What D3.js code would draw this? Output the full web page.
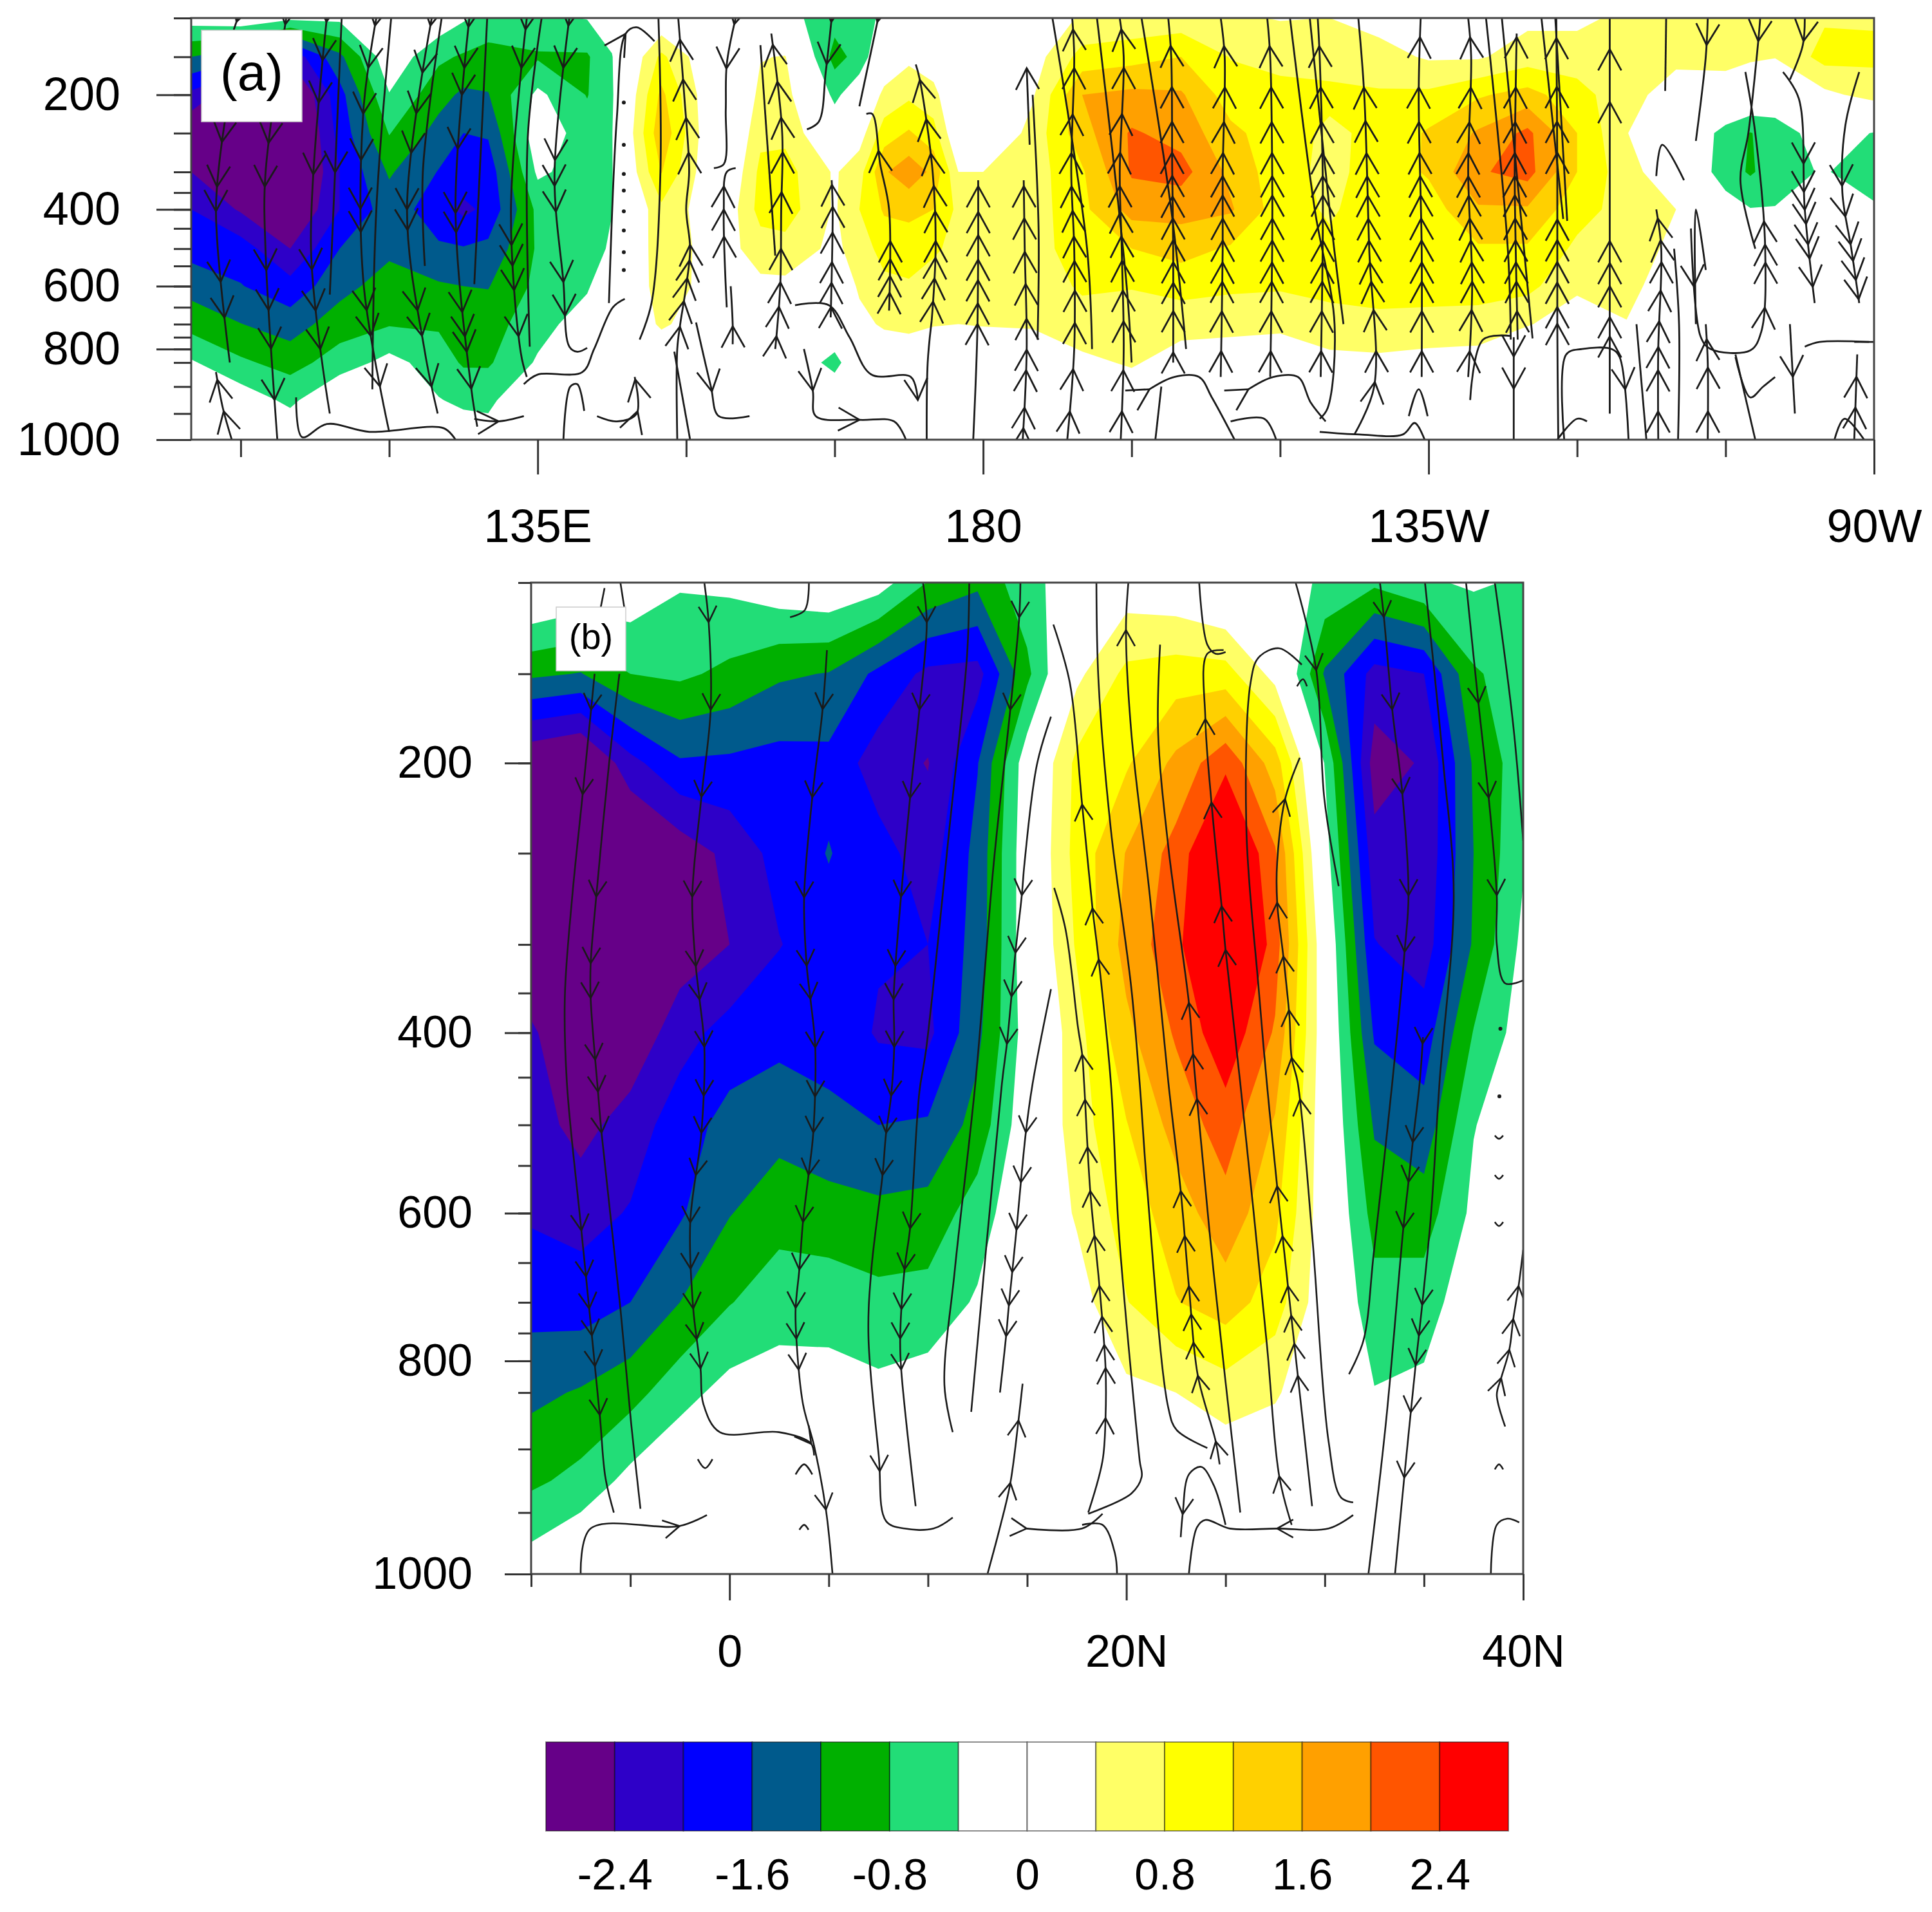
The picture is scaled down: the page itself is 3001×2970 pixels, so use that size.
<!DOCTYPE html>
<html>
<head>
<meta charset="utf-8">
<script src="https://cdn.jsdelivr.net/npm/d3@7"></script>
<style>
body { margin: 0; background: #fff; }
text { font-family: "Liberation Sans", sans-serif; fill: #000; }
</style>
</head>
<body>
<svg id="fig" width="3001" height="2970"></svg>
<script>
// pressure axis: the model levels are spaced by position, not by value
var axisLevels = [100,150,200,250,300,350,400,450,500,550,600,650,700,750,800,850,900,950,1000];
var axisSpots = [0,.092,.182,.273,.365,.414,.454,.499,.547,.588,.636,.686,.726,.757,.785,.817,.874,.938,1];
var gridLevels = [100,150,200,250,300,400,500,600,700,850,925,1000];

var bandEdges = [-2.4,-2,-1.6,-1.2,-.8,-.4,0,.4,.8,1.2,1.6,2,2.4];
var bandColors = ['#660088','#2e00c8','#0000ff','#005a8c','#00b000','#22dd77','#ffffff','#ffffff',
    '#ffff66','#ffff00','#ffd000','#ffa000','#ff5500','#ff0000'];
var barLabels = [-2.4,-1.6,-.8,0,.8,1.6,2.4];

// panel a, longitude columns; one profile per column, top (100) to bottom (1000)
var aLons = [100,105,110,115,120,125,127.5,130,135,140,142.5,147.5,152.5,155,157.5,160,165,167.5,170,172.5,175,177.5,
    180,185,190,195,200,205,210,215,220,225,230,235,240,245,250,255,257.5,260,265,270];
var aProfiles = [
    [-.2,-1.2,-2.1,-2.8,-2.4,-2,-1.75,-1.35,-.95,-.35,-.1,0],
    [-.1,-1.5,-2.8,-3,-2.9,-2.45,-1.8,-1.58,-1.19,-.73,-.15,0],
    [-.3,-2.3,-3,-3.2,-3.2,-2.9,-2.4,-1.85,-1.4,-.95,-.5,0],
    [-.3,-1.3,-1.75,-1.85,-2,-2,-1.6,-1.35,-.98,-.62,.05,0],
    [0,-.1,-.42,-.78,-1.15,-1.4,-1.3,-1,-.83,-.26,.1,0],
    [-.1,-.72,-1.05,-1.35,-1.62,-1.8,-1.55,-1.15,-.85,-.6,-.38,0],
    [-.35,-.85,-1.28,-1.6,-1.75,-2.1,-1.57,-1.2,-.95,-.85,-.48,-.15],
    [-.55,-.95,-1.22,-1.55,-1.85,-1.9,-1.5,-1.22,-.98,-.85,-.5,-.2],
    [-.5,-.85,-.3,-.1,-.32,-.7,-.75,-.7,-.55,-.35,.05,0],
    [-.38,-.85,-.82,-.62,-.6,-.72,-.7,-.45,-.2,-.1,0,0],
    [-.2,-.42,-.45,-.42,-.42,-.42,-.3,-.05,0,0,0,0],
    [0,.9,1.3,1.5,1.22,.7,.65,.55,.45,.1,0,0],
    [0,0,.05,.05,.05,.15,.25,.3,.2,0,0,0],
    [0,0,0,.05,.2,.35,.35,.1,0,0,0,0],
    [0,.38,.5,.7,.9,.95,.6,.3,0,0,0,0],
    [-.25,.42,.55,.7,.95,1,.65,.3,0,0,0,0],
    [-.65,-.95,-.5,-.1,.35,.35,.3,.1,0,-.55,0,0],
    [-.6,-.65,-.1,.2,.65,.8,.6,.45,.3,0,0,0],
    [-.3,.05,.5,1,1.55,1.25,.95,.7,.45,.1,0,0],
    [-.05,.3,.72,1.25,1.85,1.3,1,.75,.5,.1,0,0],
    [-.2,.1,.55,.95,1.5,1.2,.85,.65,.42,.1,0,0],
    [-.3,-.2,-.15,-.05,.4,.7,.7,.65,.4,.1,0,0],
    [-.3,-.2,-.15,-.1,.4,.5,.55,.55,.42,.1,0,0],
    [.1,.2,.35,.55,.6,.6,.6,.6,.45,.05,0,0],
    [.45,.95,1.6,1.45,1.15,1.1,1.05,.85,.65,.3,0,0],
    [.5,1.05,1.7,2.05,2.05,1.75,1.2,.82,.6,.45,.1,0],
    [.55,1.2,1.65,1.85,2.15,1.75,1.35,.95,.55,.2,0,0],
    [.45,.78,1,1.3,1.5,1.65,1.15,.88,.5,.2,0,0],
    [.38,.65,.95,.98,.95,.98,.95,.85,.48,.15,0,0],
    [.4,.62,.9,.72,.7,.75,.88,.95,.6,.3,0,0],
    [.25,.55,.85,.9,.95,1,1,.95,.7,.3,0,0],
    [.1,.35,.88,1.25,1.25,1,1,.98,.65,.25,0,0],
    [.15,.35,1.15,1.65,1.95,1.55,1.15,.95,.65,.2,0,0],
    [.3,.6,1.35,2.1,2.15,1.55,1.15,.92,.42,.05,0,0],
    [.3,.6,.95,1.2,1.2,.95,.72,.45,.25,0,0,0],
    [.5,.55,.55,.41,.55,.65,.6,.55,.38,.05,0,0],
    [.6,.5,.2,.1,.1,.4,.3,.1,0,0,0,0],
    [.7,.55,.15,-.55,-.6,-.2,0,0,0,0,0,0],
    [.6,.45,.1,-.82,-.85,-.38,-.05,0,0,0,0,0],
    [.6,.42,-.1,-.6,-.6,-.38,0,0,0,0,0,0],
    [.75,.95,.3,-.2,-.35,-.15,0,0,0,0,0,0],
    [.75,.9,.55,-.42,-.75,-.3,0,0,0,0,0,0]
];

// panel b, latitude columns every 2.5 degrees
var bLats = d3.range(-10, 40.1, 2.5);
var bProfiles = [
    [.2,-1.12,-2.8,-3,-3,-2.3,-2.2,-2.05,-1.75,-1.3,-.88,-.15],
    [0,-1.22,-3,-3.2,-3.2,-3,-2.55,-2.15,-1.8,-1.16,-.68,.15],
    [-.09,-.8,-2.14,-3,-3,-2.75,-2.2,-1.97,-1.6,-.95,-.27,.2],
    [-.36,-.72,-1.65,-2.65,-2.65,-2.15,-1.8,-1.65,-1.2,-.55,0,.2],
    [-.3,-.9,-1.68,-2.29,-2.4,-1.85,-1.45,-1.22,-.82,-.25,.1,.15],
    [-.1,-1.14,-1.75,-1.85,-2.02,-1.72,-1.35,-.95,-.58,-.2,.1,.1],
    [0,-1.22,-1.72,-1.58,-1.75,-1.68,-1.55,-1,-.6,-.2,.1,.1],
    [-.2,-1.7,-2.2,-1.85,-1.95,-2.05,-1.6,-1.1,-.68,-.3,.1,.1],
    [-.82,-2.1,-2.42,-2.2,-2,-2.1,-1.55,-1.05,-.65,-.2,.1,.1],
    [-1.1,-2.15,-1.62,-1.47,-1.45,-1.3,-1.05,-.6,-.35,-.1,.1,.1],
    [-.55,-.9,-.15,-.1,-.1,-.2,-.1,-.05,.05,.1,.05,.05],
    [-.14,.3,.9,.95,.85,.65,.6,.45,.2,-.1,0,.05],
    [.15,.9,1.15,1.62,1.75,1.5,1.18,.98,.78,.3,.1,.05],
    [.05,1,1.7,2.15,2.25,2.05,1.75,1.4,1.18,.4,.1,0],
    [-.2,.97,2.3,3.1,3.4,2.7,2.2,1.85,1.4,.6,.05,0],
    [-.1,.25,1.4,2.05,2.2,1.95,1.55,1.3,1,.45,.05,0],
    [-.5,-1.25,-.42,-.2,.05,.1,.1,.12,.1,.05,0,0],
    [-.72,-2.15,-2.6,-2.25,-1.98,-1.65,-1.25,-.95,-.65,-.38,-.1,0],
    [-.45,-2,-2.35,-2.3,-2.2,-1.8,-1.45,-1,-.6,-.3,-.1,0],
    [-.35,-.85,-1.15,-1.2,-1.15,-.78,-.42,-.3,-.1,-.05,0,0],
    [-.45,-.6,-.55,-.45,-.3,-.2,-.1,0,0,0,0,0]
];

// streamlines: [points in flow order, pressures that carry an arrow head]
// a third element on a point puts a head at that point (for the flat runs)
var aStreams = [
    [[[104.7,100],[104.3,115]],[105]],
    [[[103.4,235],[102.5,400],[103.9,850]],[262,335,405,590,680]],
    [[[109.6,100],[107.5,305],[107.5,500],[108.7,1000]],[108,262,335,560,660,800,925]],
    [[[113.7,100],[112.1,500],[114,950]],[105,155,210,305,560,660,800]],
    [[[115.2,100],[114,620]],[300]],
    [[[118.7,100],[117.4,220],[117.4,590],[120,985]],[110,165,225,285,400,460,660,745,900]],
    [[[120.2,100],[118.7,400],[118.3,905]],[]],
    [[[124.3,100],[121.8,400],[123.6,810],[124.9,950]],[110,170,225,275,400,455,660,745,900]],
    [[[125.3,100],[123.4,300],[123.6,550]],[]],
    [[[128.1,100],[126.7,400],[128.3,905],[128.9,975]],[112,165,200,270,410,460,665,745,810,905]],
    [[[129.9,100],[128.6,595]],[]],
    [[[133.9,100],[132.3,400],[133.3,815],[133.9,880]],[115,165,490,550,610,745]],
    [[[135.4,100],[134,255],[134.2,790]],[]],
    [[[133.6,895],[135,875],[139.5,870],[140.7,800],[142.6,650],[143.8,630]],[]],
    [[[138.2,100],[136.7,310],[137.6,590],[138.2,790],[139,810],[140,795]],[110,165,285,335,405,590,675]],
    [[[142.2,640],[143,230],[143.9,120,1],[145,112],[146.8,130]],[]],
    [[[149.1,1000],[149.1,800],[149.4,700],[150,600],[150.4,500],[150,400],[150.3,300],[149.8,200],[149.2,100]],[710,635,580,535,490,275,230,180,128]],
    [[[145.3,760],[146.5,640],[147.4,300],[147.2,100]],[]],
    [[[155,100],[154.1,160],[154,220],[153.8,290],[152.8,295]],[108,165]],
    [[[154.1,650],[153.8,400],[154.1,300],[155,295]],[335,400,470]],
    [[[154.7,780],[154.7,700],[154.5,600]],[710]],
    [[[159,800],[159.5,600],[159.6,400],[159.7,250],[158.6,120]],[745,650,590,500,350,275,230,182,135]],
    [[[157.5,135],[159,520]],[]],
    [[[164.6,680],[164.8,400],[164.7,320]],[650,590,540,460,390,330]],
    [[[164.7,100],[164.1,170],[163.4,235],[162.2,245]],[105,160]],
    [[[169.4,100],[167.5,215]],[105]],
    [[[170.5,660],[170.5,400],[169.6,290],[168.8,225],[168.2,225]],[615,575,530,480,272]],
    [[[174.8,690],[175.2,500],[174.9,300],[173.6,180],[173.2,160]],[635,580,525,480,405,335,277,232,180]],
    [[[174.3,1000],[174.4,850],[174.8,690]],[]],
    [[[104.1,1000],[103.2,940],[102.5,870]],[945,885]],
    [[[110.6,920],[111.2,995],[113.7,970],[118,985],[125.5,978],[126.7,1000]],[]],
    [[[128.6,960],[131,965,1],[133.6,955]],[]],
    [[[137.6,1000],[138.3,900],[139,895],[139.7,945]],[]],
    [[[141,955],[143,965],[145,950],[144.8,880]],[945,885]],
    [[[151,695],[152.5,900],[153.3,955],[156.4,955]],[910]],
    [[[161.9,800],[162.8,908],[163.1,955],[167.5,962,1],[171,965],[172.2,1000]],[908]],
    [[[161,645],[164.4,645],[166.5,750],[168.7,875],[172.7,880],[173.4,925,1]],[]],
    [[[148.8,810],[150.4,1000]],[]],
    // east of the date line
    [[[179,1000],[179.4,750],[179.5,500],[179.5,320]],[700,640,585,530,465,405,335]],
    [[[184,1000],[184.4,800],[184.2,500],[184.1,320]],[977,940,865,800,685,595,510,425,335]],
    [[[184.7,265],[184.4,165]],[165]],
    [[[188.5,1000],[189.2,800],[189.2,500],[188.9,300],[189.2,150],[189,100]],[945,865,695,610,535,470,405,335,275,225,165,115]],
    [[[193.9,1000],[194.2,800],[194,500],[193.8,300],[194.2,150],[193.8,100]],[945,865,690,610,535,470,405,335,275,225,165,115]],
    [[[199.2,850],[199.2,500],[199.1,300],[199,150],[198.7,100]],[810,660,590,540,480,425,360,310,275,235,190,136]],
    [[[204,880],[204.2,500],[204.2,300],[204.4,150],[204,100]],[810,660,590,540,480,425,360,310,275,235,190,136]],
    [[[209,880],[209.2,500],[209.2,300],[209,150],[208.7,100]],[810,660,590,540,480,425,360,310,275,235,190,136]],
    [[[214.1,880],[214.3,500],[214.3,300],[214,150],[213.8,100]],[810,660,590,540,480,425,360,310,275,235,190,136]],
    [[[217.5,990],[219.5,900],[219,500],[218.5,200],[217.9,100]],[890,810,660,590,540,480,425,360,310,275,235,190]],
    [[[224.3,880],[224.3,500],[224,200],[224.2,100]],[810,660,590,540,480,425,360,310,275,235,190,125]],
    [[[229,880],[229.4,600],[229,300],[229.3,150],[229,100]],[810,660,590,540,480,425,360,310,275,235,190,125]],
    [[[234,760],[233.8,500],[233.7,300],[233.9,120]],[660,590,540,480,425,360,310,275,235,190,125]],
    [[[238.1,1000],[238,700],[238,300],[237.9,100]],[700,650,590,540,480,425,275,235,190,125]],
    [[[243.3,950],[243.3,700],[243.3,200],[243.3,100]],[745,680,600,540,480,210,140]],
    [[[248.2,1000],[248.2,800],[248.5,500],[248,400]],[945,865,790,690,610,540,480,425]],
    [[[253.2,1000],[253.2,850],[253,700]],[945,860,760]],
    // thin lines running with the arrowed ones
    [[[185.5,760],[185.6,450],[185,200]],[]],
    [[[187,100],[190.5,500],[191,800]],[]],
    [[[191.5,100],[194.5,600],[195,850]],[]],
    [[[196,100],[199,400],[200.5,800]],[]],
    [[[211,100],[213.5,400],[215.5,700],[214.8,940],[214,960]],[]],
    [[[213,100],[215,400],[216.4,700]],[]],
    [[[230.8,100],[233,500],[233.3,760]],[]],
    [[[232.4,100],[235.5,755]],[]],
    [[[236.4,100],[238.6,425]],[]],
    [[[237.8,100],[239,430]],[]],
    [[[249,100],[248.9,195]],[]],
    [[[248,310],[248.6,265],[250.8,320]],[]],
    // low level arcs
    [[[196.8,905],[199.3,880],[201.8,880],[203.1,920],[205.4,1000]],[905]],
    [[[197.4,1000],[198,900]],[]],
    [[[206.8,905],[209.3,880],[211.8,880],[213.1,930],[214.6,965]],[905]],
    [[[205,965],[208.4,960],[209.6,1000]],[]],
    [[[214,985],[218,990],[222.4,990],[223.6,968],[224.6,1000]],[]],
    [[[223,955],[224,905],[224.9,955]],[]],
    [[[229.2,925],[230.5,760],[233.3,745]],[]],
    [[[233.6,750],[233.6,1000]],[830,905]],
    [[[238.7,1000],[238.9,820],[240.5,800],[243.5,800],[244.3,830],[245.2,1000]],[905]],
    [[[252,700],[252,400],[253,560]],[]],
    [[[251.5,450],[252.5,750],[253.5,800],[257.5,805],[258.6,730],[259,500],[258,250],[257,170]],[650,600,540,490,430]],
    [[[258.5,100],[258.3,130],[257.3,250],[256.5,320],[258,500]],[130]],
    [[[253.2,100],[253,150],[252,260]],[135]],
    [[[263,100],[262.8,135],[261.5,180]],[130]],
    [[[260.8,170],[262.4,205],[263,400],[264,640]],[290,350,400,440,490,530,600]],
    [[[268.5,170],[267.1,240],[266.8,350],[267.7,500],[268.5,640]],[335,420,490,535,585,630]],
    [[[268,770],[272,770]],[]],
    [[[263,790],[264.5,770],[269.5,770]],[]],
    [[[258,1000],[256,820]],[]],
    [[[256,830],[257.5,920],[258.8,900],[260,880]],[]],
    [[[261.5,700],[262,950]],[880]],
    [[[266,1000],[267,960],[269,1000]],[]],
    [[[268,1000],[268.3,820]],[940,880]],
    [[[271,1000],[270.5,700]],[]],
    [[[238,1000],[240,960],[241,965]],[]],
    [[[247,1000],[246,700]],[]],
    [[[250.2,1000],[250.3,700],[249.8,500]],[]]
];

var bStreams = [
    [[[-6.8,150],[-7.4,217],[-7.93,274],[-8.3,354],[-8.2,455],[-7.47,617],[-6.54,870],[-6.26,922],[-5.83,950]],[170,217,617,668,710,755,808,870]],
    [[[-5.55,150],[-6.07,200],[-6.72,274],[-7,320],[-7,357],[-6.63,465],[-6.45,510],[-5.5,710],[-4.96,877],[-4.49,947]],[274,320,357,430,465,510]],
    [[[-6.3,103],[-6.5,114]],[]],
    [[[-5.5,100],[-5.3,114]],[]],
    [[[-1.27,100],[-1.05,122],[-.95,170],[-1.42,219],[-1.88,274],[-1.7,322],[-1.51,358],[-1.27,416],[-1.42,510],[-1.98,609],[-1.83,710],[-1.46,813],[-1.32,860],[-.49,885],[2.49,885],[4.1,895,1],[4.26,905]],[122,170,219,274,322,358,416,470,510,560,609,658,710,761,813]],
    [[[4.91,137],[4.69,170],[4.17,219],[3.76,274],[3.89,322],[4.08,358],[4.32,416],[4.22,510],[3.98,560],[3.7,609],[3.52,658],[3.33,710],[3.37,761],[3.7,860],[4.26,897],[4.86,948],[5.19,1000]],[170,219,274,322,358,416,470,510,560,609,658,710,761,813,948]],
    [[[4,100],[3.8,115],[3.05,119]],[]],
    [[[9.75,100],[9.94,122],[9.57,170],[9.1,219],[8.64,274],[8.36,322],[8.27,358],[8.3,416],[8.14,470],[7.89,510],[7.71,560],[7.15,658],[7,755],[7.52,905],[7.89,957],[8.82,963],[10.28,963],[11.25,954]],[122,170,219,274,322,358,416,470,510,560,917]],
    [[[12.08,100],[11.97,140],[11.14,230],[9.9,420],[9.57,465],[9.1,615],[8.82,658],[8.6,761],[8.65,813],[9.38,945]],[615,658,710,761,813]],
    [[[14.66,100],[14.6,119],[14.15,170],[13.32,255],[12.39,456],[11.35,660],[10.83,838],[11.25,885]],[119,170]],
    [[[16.2,174],[15.49,201],[14.87,255],[14.73,273],[14.41,308],[14.21,354],[13.98,412],[13.73,456],[12.18,867]],[273,308,354,412]],
    [[[16.2,346],[15.28,456],[14.93,510],[14.46,617],[14.08,704],[13.94,755],[13.63,850]],[510,567,617,662,704,755]],
    [[[13,1000],[13.63,962],[14.15,927],[14.56,875],[14.77,836]],[927,875]],
    [[[14.97,963,1],[17.77,963],[18.8,951]],[]],
    [[[17.77,960],[18.8,960],[19.42,983],[19.53,1000]],[]],
    [[[18.08,950],[18.8,909],[18.95,872],[18.95,811],[18.64,679],[18.18,577],[17.87,456],[17.77,424],[17.56,393],[16.94,292],[16.36,269]],[872,811,770,723,679,623,577,528,473,424]],
    [[[18.08,951],[20.25,935],[20.77,922],[20.67,909],[19.63,621],[19.22,456],[18.6,315],[18.29,280],[17.77,223],[17.15,155],[16.32,123]],[315,280,223]],
    [[[18.49,100],[18.6,155],[19.22,237],[20.25,345],[20.67,456],[21.08,582],[22.12,864],[22.53,883],[24.08,899]],[]],
    [[[24.7,912],[24.5,893],[23.6,823],[23.15,679],[22.74,577],[22.12,456],[21.18,273],[20.25,183],[19.98,126],[20.1,100]],[893,823,767,720,679,623,577,126]],
    [[[25.74,950],[24.39,660],[23.56,473],[23.36,424],[23.15,362],[22.12,247],[21.6,183],[21.7,134]],[473,424,362]],
    [[[23.67,100],[24.08,134],[24.5,139],[25,138]],[]],
    [[[28.33,960],[27.7,921],[27.08,770],[25.74,456],[25,306],[24.8,279],[24.29,222],[23.98,175],[24.08,139],[24.9,137]],[921,306,279,222,175]],
    [[[29.36,945],[28.64,823],[27.6,572],[27.08,456],[26.67,346],[26.05,237],[26.26,155],[26.67,141],[27.7,136],[28.84,145]],[823,770,721,679,623,572]],
    [[[31.43,942],[30.81,938],[30.19,893],[29.36,621],[28.64,456],[28.33,428],[28.22,380],[27.91,312],[27.6,277],[27.6,255],[28,220],[28.74,197]],[473,428,372,312,277,220]],
    [[[25,960],[24.39,928],[23.77,914],[23.15,920],[22.84,951,1],[22.74,970]],[]],
    [[[31.43,952],[30.19,963],[27.6,963,1],[25.22,963],[23.98,956],[23.56,962],[23.15,1000]],[]],
    [[[32.78,100],[32.98,119],[33.4,170],[33.91,217],[34.22,273],[34.02,308],[33.4,456],[32.47,640],[31.95,763],[31.22,821]],[119,170,217,273,308]],
    [[[28.53,100],[29.57,148],[29.98,220],[30.7,268]],[148]],
    [[[35.05,100],[35.98,201],[36.5,273],[35.78,456],[35.36,600],[34.91,704],[34.58,806],[34.02,920],[33.54,1000]],[704,755,806,868,923]],
    [[[34.95,405],[34.78,456],[34.43,522],[34.22,567],[33.96,615],[33.09,875],[32.2,1000]],[412,522,567,615]],
    [[[37.12,100],[37.74,166],[38.26,219],[38.67,273],[38.67,300],[39.09,340],[40,337]],[166,219,273]],
    [[[38.57,100],[39.5,179],[40,243]],[]],
    [[[39.09,880],[38.67,852],[38.88,828],[39.3,780],[39.5,727],[39.77,679],[40,637]],[828,780,727,679]],
    [[[38.37,1000],[38.67,960],[39.2,955],[39.8,958]],[]],
    [[[-7.5,1000],[-7,963],[-2.53,961,1],[-1.14,952]],[]],
    // small arcs near the ground and along the right edge
    [[[-1.6,908],[-1.23,915],[-.86,908]],[]],
    [[[3.33,920],[3.76,912],[4.17,920]],[]],
    [[[3.52,964],[3.76,960],[3.98,964]],[]],
    [[[38.57,513],[38.78,517],[38.99,513]],[]],
    [[[38.57,560],[38.78,564],[38.99,560]],[]],
    [[[38.57,609],[38.78,613],[38.99,609]],[]],
    [[[38.57,916],[38.78,912],[38.99,916]],[]],
    [[[28.6,157],[28.9,153],[29.1,157]],[]]
];

var aDots = [[143.7,210],[143.7,265],[143.7,305],[143.7,345],[143.7,405],[143.7,455],[143.7,510],[143.7,560]];
var bDots = [[38.85,395],[38.8,470]];

var svg = d3.select('#fig');

// a smooth line and its heads, drawn in screen space from the two scales
function drawStreams(g, streams, x, y, size) {
    var line = d3.line().curve(d3.curveCatmullRom.alpha(0.5));
    streams.forEach(function(s) {
        var pix = s[0].map(function(d) { return [x(d[0]), y(d[1])]; });
        var path = g.append('path')
            .attr('d', line(pix))
            .attr('fill', 'none')
            .attr('stroke', '#1a1a1a')
            .attr('stroke-width', size.line);

        var node = path.node();
        var total = node.getTotalLength();
        var samples = d3.range(0, total + 2, 2).map(function(l) {
            var q = node.getPointAtLength(Math.min(l, total));
            return [q.x, q.y];
        });

        var spots = [];
        s[1].forEach(function(p) {
            var yy = y(p);
            var i = d3.minIndex(samples, function(q) { return Math.abs(q[1] - yy); });
            spots.push(i);
        });
        s[0].forEach(function(d, k) {
            if(!d[2]) return;
            var i = d3.minIndex(samples, function(q) {
                return Math.hypot(q[0] - pix[k][0], q[1] - pix[k][1]);
            });
            spots.push(i);
        });

        spots.forEach(function(i) {
            var p0 = samples[Math.max(i - 3, 0)];
            var p1 = samples[Math.min(i + 3, samples.length - 1)];
            var a = Math.atan2(p1[1] - p0[1], p1[0] - p0[0]);
            var c = samples[i];
            var ca = Math.cos(a), sa = Math.sin(a);
            var left = [c[0] - size.back * ca - size.side * sa, c[1] - size.back * sa + size.side * ca];
            var right = [c[0] - size.back * ca + size.side * sa, c[1] - size.back * sa - size.side * ca];
            g.append('path')
                .attr('d', 'M' + left + 'L' + c + 'L' + right)
                .attr('fill', 'none')
                .attr('stroke', '#1a1a1a')
                .attr('stroke-width', size.line);
        });
    });
}

function drawPanel(opt) {
    var x = d3.scaleLinear().domain(opt.xDomain).range([opt.left, opt.right]);
    var y = d3.scaleLinear().domain(axisLevels)
        .range(axisSpots.map(function(f) { return opt.top + f * (opt.bottom - opt.top); }));

    var n = opt.cols.length, m = gridLevels.length;
    var colX = d3.scaleLinear().domain(d3.range(n)).range(opt.cols.map(x)).clamp(true);
    var rowY = d3.scaleLinear().domain(d3.range(m)).range(gridLevels.map(y)).clamp(true);
    var path = d3.geoPath(d3.geoTransform({
        point: function(i, j) { this.stream.point(colX(i - 0.5), rowY(j - 0.5)); }
    }));

    // row-major grids, and the same grid with the sign turned for the negative side
    var flat = [], flip = [];
    d3.range(m).forEach(function(j) {
        d3.range(n).forEach(function(i) {
            flat.push(opt.profiles[i][j]);
            flip.push(-opt.profiles[i][j]);
        });
    });

    var clipId = 'clip' + opt.id;
    svg.append('clipPath').attr('id', clipId).append('rect')
        .attr('x', opt.left).attr('y', opt.top)
        .attr('width', opt.right - opt.left).attr('height', opt.bottom - opt.top);
    var plot = svg.append('g').attr('clip-path', 'url(#' + clipId + ')');

    var contours = d3.contours().size([n, m]);
    bandEdges.forEach(function(t, k) {
        if(t > 0) {
            plot.append('path').datum(contours.contour(flat, t))
                .attr('d', path).attr('fill', bandColors[k + 1]);
        }
    });
    bandEdges.slice().reverse().forEach(function(t) {
        if(t < 0) {
            plot.append('path').datum(contours.contour(flip, -t))
                .attr('d', path).attr('fill', bandColors[bandEdges.indexOf(t)]);
        }
    });

    drawStreams(plot, opt.streams, x, y, opt.head);
    opt.dots.forEach(function(d) {
        plot.append('circle').attr('cx', x(d[0])).attr('cy', y(d[1])).attr('r', 3).attr('fill', '#1a1a1a');
    });

    // frame
    svg.append('rect')
        .attr('x', opt.left).attr('y', opt.top)
        .attr('width', opt.right - opt.left).attr('height', opt.bottom - opt.top)
        .attr('fill', 'none').attr('stroke', '#444').attr('stroke-width', 3);

    // axes: minor ticks first, labelled ticks on top
    function styleAxis(g) {
        g.select('.domain').remove();
        g.selectAll('line').attr('stroke', '#333').attr('stroke-width', 3);
        g.selectAll('text').style('font-size', opt.font + 'px').style('font-family', '"Liberation Sans", sans-serif');
    }
    svg.append('g').attr('transform', 'translate(' + opt.left + ',0)')
        .call(d3.axisLeft(y).tickValues(axisLevels).tickSize(opt.minor).tickFormat(''))
        .call(styleAxis);
    svg.append('g').attr('transform', 'translate(' + opt.left + ',0)')
        .call(d3.axisLeft(y).tickValues([200,400,600,800,1000]).tickSize(opt.major).tickPadding(opt.yPad)
            .tickFormat(d3.format('d')))
        .call(styleAxis);
    svg.append('g').attr('transform', 'translate(0,' + opt.bottom + ')')
        .call(d3.axisBottom(x).tickValues(opt.xMinor).tickSize(opt.minor).tickFormat(''))
        .call(styleAxis);
    svg.append('g').attr('transform', 'translate(0,' + opt.bottom + ')')
        .call(d3.axisBottom(x).tickValues(opt.xMajor).tickSize(opt.major).tickPadding(opt.xPad)
            .tickFormat(function(d, i) { return opt.xLabels[i]; }))
        .call(styleAxis);

    // panel tag
    svg.append('rect')
        .attr('x', opt.tag.x).attr('y', opt.tag.y)
        .attr('width', opt.tag.w).attr('height', opt.tag.h)
        .attr('fill', '#fff').attr('stroke', '#ccc').attr('stroke-width', 1.5);
    svg.append('text')
        .attr('x', opt.tag.x + opt.tag.w / 2).attr('y', opt.tag.base)
        .attr('text-anchor', 'middle').style('font-size', opt.tag.font + 'px')
        .text(opt.tag.text);
}

drawPanel({
    id: 'a', left: 297, right: 2911, top: 28, bottom: 683,
    xDomain: [100, 270], cols: aLons, profiles: aProfiles, streams: aStreams, dots: aDots,
    xMajor: [135,180,225,270], xLabels: ['135E','180','135W','90W'],
    xMinor: [105,120,150,165,195,210,240,255],
    major: 54, minor: 27, yPad: 56, xPad: 54, font: 72,
    head: {line: 2.8, back: 33, side: 18},
    tag: {x: 313, y: 47, w: 156, h: 142, base: 140, font: 80, text: '(a)'}
});

drawPanel({
    id: 'b', left: 825, right: 2366, top: 905, bottom: 2445,
    xDomain: [-10, 40], cols: bLats, profiles: bProfiles, streams: bStreams, dots: bDots,
    xMajor: [0,20,40], xLabels: ['0','20N','40N'],
    xMinor: [-10,-5,5,10,15,25,30,35],
    major: 41, minor: 20, yPad: 50, xPad: 53, font: 70,
    head: {line: 2.6, back: 25, side: 14},
    tag: {x: 864, y: 943, w: 108, h: 99, base: 1008, font: 56, text: '(b)'}
});

// colour bar
var barX = d3.scaleLinear().domain([-2.8, 2.8]).range([848, 2343]);
var barTop = 2706, barH = 138;
var barEdges = [-2.8].concat(bandEdges);
bandColors.forEach(function(c, i) {
    svg.append('rect')
        .attr('x', barX(barEdges[i])).attr('y', barTop)
        .attr('width', barX(barEdges[i] + 0.4) - barX(barEdges[i])).attr('height', barH)
        .attr('fill', c).attr('stroke', 'rgba(0,0,0,0.45)').attr('stroke-width', 2);
});
svg.append('g').attr('transform', 'translate(0,' + (barTop + barH) + ')')
    .call(d3.axisBottom(barX).tickValues(barLabels).tickSize(0).tickPadding(43)
        .tickFormat(function(d) { return d === 0 ? '0' : String(d); }))
    .call(function(g) {
        g.select('.domain').remove();
        g.selectAll('text').style('font-size', '68px').style('font-family', '"Liberation Sans", sans-serif');
    });
</script>
</body>
</html>
